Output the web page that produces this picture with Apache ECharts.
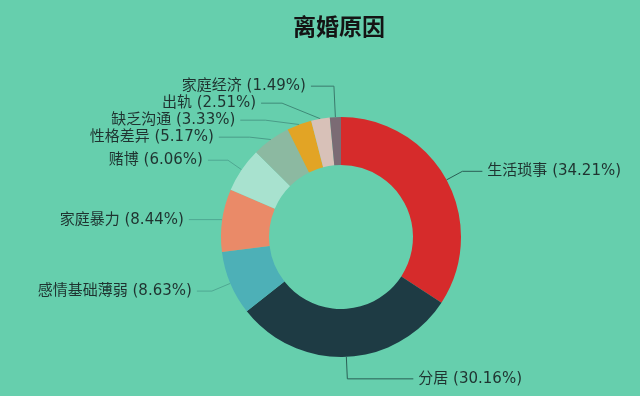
<!DOCTYPE html>
<html><head><meta charset="utf-8">
<script src="https://cdn.jsdelivr.net/npm/echarts@6/dist/echarts.min.js"></script>
<style>html,body{margin:0;padding:0;background:#66cfad;}#c{width:640px;height:396px;}</style>
</head><body><div id="c"></div>
<script>
const categories = ['生活琐事','分居','感情基础薄弱','家庭暴力','赌博','性格差异','缺乏沟通','出轨','家庭经济'];
const values = [34.21,30.16,8.63,8.44,6.06,5.17,3.33,2.51,1.49];
const colors = ['#d62b2b','#1e3b44','#4db0b7','#ea8a68','#a8e2cf','#8cb9a1','#e2a425','#d8c1b8','#7b6b74'];
const lineLen = [18,22,20,5,17,8,7,17,31];
const lineLen2 = [20,66,15,33,20,31,25,21,23];
const lineColors = ['#2a5f55','#2a5f55','#4fa892','#4fa892','#4fa892','#4a9c88','#4a9c88','#3f8a78','#3a7a6c'];
const chart = echarts.init(document.getElementById('c'));
chart.setOption({
  backgroundColor:'#66cfad',
  title:{text:'离婚原因',left:288,top:10,textStyle:{fontSize:23,fontWeight:'bold',color:'#141414',fontFamily:'Noto Sans CJK SC'}},
  series:[{
    type:'pie',
    center:[341,237],
    radius:[72,120],
    startAngle:90,
    clockwise:true,
    avoidLabelOverlap:true,
    data:categories.map((n,i)=>({name:n,value:values[i],itemStyle:{color:colors[i]},
      labelLine:{length:lineLen[i],length2:lineLen2[i],lineStyle:{color:lineColors[i]}}})),
    label:{formatter:p=>p.name+' ('+values[p.dataIndex].toFixed(2)+'%)',color:'#1f3330',fontSize:15,lineHeight:15,fontFamily:'DejaVu Sans, Noto Sans CJK SC'},
    labelLine:{lineStyle:{width:1}}
  }]
});
</script></body></html>
